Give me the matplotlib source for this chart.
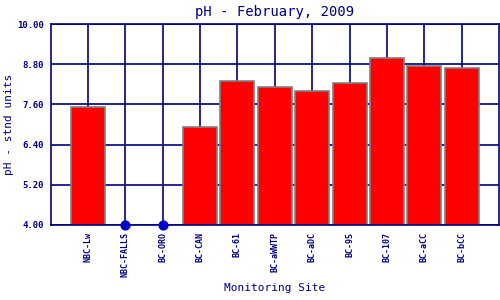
import numpy as np
import matplotlib
matplotlib.use('Agg')
import matplotlib.pyplot as plt

# Site names and pH readings (None = no sample)
sites = ['NBC-Lw', 'NBC-FALLS', 'BC-ORO', 'BC-CAN', 'BC-61', 'BC-aWWTP',
         'BC-aDC', 'BC-95', 'BC-107', 'BC-aCC', 'BC-bCC']
ph_values = [7.51, None, None, 6.93, 8.30, 8.11, 8.00, 8.23, 8.98, 8.74, 8.68]
y_ticks = [4.00, 5.20, 6.40, 7.60, 8.80, 10.00]

navy = '#000080'
font = 'DejaVu Sans Mono'

fig = plt.figure(figsize=(5, 3), dpi=100)
ax = fig.add_axes([0.101, 0.25, 0.8975, 0.67])

x = np.arange(len(sites))
have = [i for i, v in enumerate(ph_values) if v is not None]
missing = [i for i, v in enumerate(ph_values) if v is None]
base = y_ticks[0]

# grid first so bars sit on top
for t in y_ticks:
    ax.axhline(t, color=navy, lw=1.2, zorder=1)
for xi in x:
    ax.axvline(xi, color=navy, lw=1.2, zorder=1)

ax.bar([x[i] for i in have], [ph_values[i] - base for i in have], bottom=base,
       width=0.91, color='#ff0000', edgecolor='#808080', linewidth=1.2, zorder=2)
ax.scatter([x[i] for i in missing], [base] * len(missing), s=40, color='#0000cc',
           zorder=4, clip_on=False)

ax.set_xlim(-1, len(sites))
ax.set_ylim(base, y_ticks[-1])
ax.set_yticks(y_ticks)
ax.set_yticklabels([f'{t:.2f}' for t in y_ticks], fontsize=6.5, color=navy,
                   family=font, fontweight='bold')
ax.set_xticks(x)
ax.set_xticklabels(sites, rotation=90, fontsize=6, color=navy, family=font,
                   fontweight='bold')
ax.tick_params(length=0, pad=5)

for s in ax.spines.values():
    s.set_color(navy)
    s.set_linewidth(1.2)

ax.set_title('pH - February, 2009', fontsize=10, color=navy, family=font, pad=6)
fig.text(0.018, 0.585, 'pH - stnd units', fontsize=8, color=navy, family=font,
         rotation=90, ha='center', va='center')
fig.text(0.55, 0.03, 'Monitoring Site', fontsize=8, color=navy, family=font,
         ha='center')

fig.savefig('out.png', dpi=100)
